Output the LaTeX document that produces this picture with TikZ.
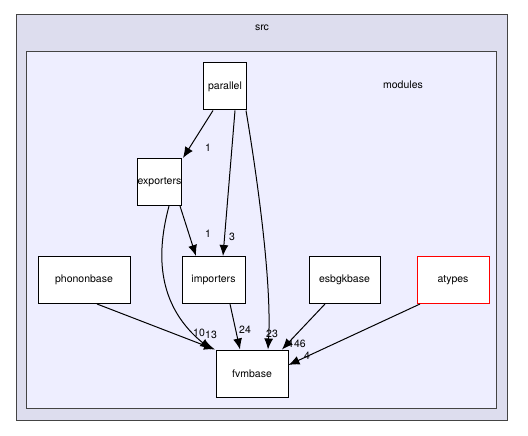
\documentclass[tikz,border=0pt]{standalone}
\usepackage{fontspec}
\setmainfont{TeX Gyre Heros}
\usetikzlibrary{arrows.meta}
\definecolor{srcfill}{HTML}{DDDDEE}
\definecolor{modfill}{HTML}{EEEEFF}
\definecolor{boxline}{HTML}{444444}
\begin{document}
\begin{tikzpicture}[x=1pt,y=1pt,
  every node/.style={font=\fontsize{10.5}{12}\selectfont},
  dirbox/.style={draw=black,fill=white,line width=1pt,minimum height=47pt,inner sep=0pt},
  dep/.style={-{Latex[length=11pt,width=9pt]},line width=1pt},
  lbl/.style={font=\fontsize{10.5}{12}\selectfont,inner sep=0pt}]
\useasboundingbox (0,0) rectangle (528,-436);
\node[draw=boxline,fill=srcfill,line width=1pt,minimum width=491pt,minimum height=405pt,inner sep=0pt] (srcbox) at (261.5,-217.5) {};
\node (srclbl) at (262,-28) {src};
\node[draw=boxline,fill=modfill,line width=1pt,minimum width=470pt,minimum height=356pt,inner sep=0pt] (modbox) at (261,-230) {};
\node (modlbl) at (403,-85) {modules};

\node[dirbox,minimum width=43pt] (parallel) at (225,-86.5) {parallel};
\node[dirbox,minimum width=43pt] (exporters) at (159.5,-182) {exporters};
\node[dirbox,minimum width=63pt] (importers) at (213.5,-280) {importers};
\node[dirbox,minimum width=92pt] (phononbase) at (84,-280) {phononbase};
\node[dirbox,minimum width=71pt] (esbgkbase) at (344.5,-280) {esbgkbase};
\node[dirbox,draw=red,minimum width=72pt] (atypes) at (453,-280) {atypes};
\node[dirbox,minimum width=72pt] (fvmbase) at (252,-373.5) {fvmbase};

\draw[dep] (parallel.south -| 213,0) -- (exporters.north -| 183,0);
\node[lbl] (l1) at (208,-148) {1};
\draw[dep] (parallel.south -| 235,0) -- (importers.north -| 223,0);
\node[lbl] (l2) at (232,-237) {3};
\draw[dep] (parallel.south -| 246,0) .. controls (256,-170) and (272,-280) .. (fvmbase.north -| 268,0);
\node[lbl] (l3) at (272,-334) {23};
\draw[dep] (exporters.south -| 180,0) -- (importers.north -| 196,0);
\node[lbl] (l4) at (208,-234) {1};
\draw[dep] (exporters.south -| 169,0) .. controls (160,-240) and (150,-300) .. (fvmbase.north -| 211,0);
\node[lbl] (l5) at (199,-333) {10};
\node[lbl] (l6) at (211,-335) {13};
\draw[dep] (phononbase.south -| 97,0) -- (fvmbase.north -| 215,0);
\draw[dep] (importers.south -| 230,0) -- (fvmbase.north -| 240,0);
\node[lbl] (l7) at (245,-330) {24};
\draw[dep] (esbgkbase.south -| 325,0) -- (fvmbase.north -| 282,0);
\node[lbl] (l8) at (297,-344) {146};
\draw[dep] (atypes.south -| 420,0) -- (fvmbase.east |- 0,-365);
\node[lbl] (l9) at (307,-356) {4};
\end{tikzpicture}
\end{document}
